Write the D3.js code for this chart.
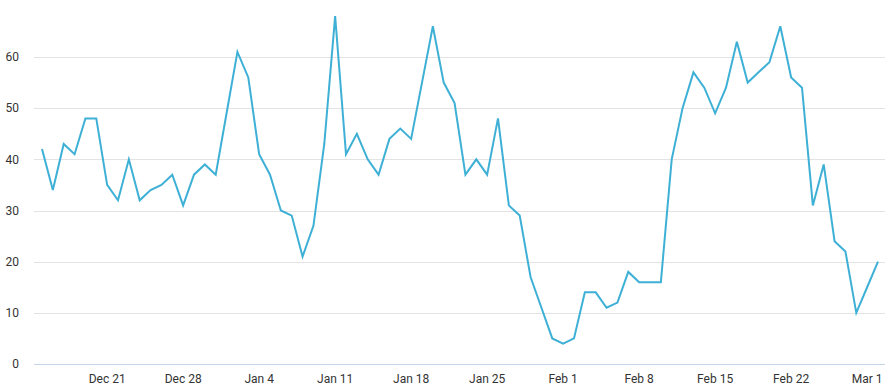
<!DOCTYPE html>
<html>
<head>
<meta charset="utf-8">
<script src="https://cdn.jsdelivr.net/npm/d3@7"></script>
<style>
  body { margin: 0; background: #fff; }
  svg { display: block; font-family: Roboto, "Noto Sans", sans-serif; }
  .grid line { stroke: #e3e3e3; stroke-width: 1; }
  .tick-label { fill: #333; font-size: 12px; }
</style>
</head>
<body>
<svg id="chart" width="893" height="390"></svg>
<script>
// Daily counts, Dec 15 through Mar 2
const startDate = '2018-12-15';
const values = [
  42, 34, 43, 41, 48, 48, 35, 32, 40, 32, 34, 35, 37, 31,
  37, 39, 37, 49, 61, 56, 41, 37, 30, 29, 21, 27, 43, 68,
  41, 45, 40, 37, 44, 46, 44, 55, 66, 55, 51, 37, 40, 37,
  48, 31, 29, 17, 11, 5, 4, 5, 14, 14, 11, 12, 18, 16,
  16, 16, 40, 50, 57, 54, 49, 54, 63, 55, 57, 59, 66, 56,
  54, 31, 39, 24, 22, 10, 15, 20
];
const yTicks = [0, 10, 20, 30, 40, 50, 60];
const xTickDates = ['2018-12-21', '2018-12-28', '2019-01-04', '2019-01-11', '2019-01-18',
  '2019-01-25', '2019-02-01', '2019-02-08', '2019-02-15', '2019-02-22', '2019-03-01'];

const parse = d3.utcParse('%Y-%m-%d');
const start = parse(startDate);
const data = values.map((v, i) => ({date: d3.utcDay.offset(start, i), value: v}));

const svg = d3.select('#chart');
const plotLeft = 34, plotRight = 885;

const x = d3.scaleUtc()
  .domain(d3.extent(data, (d) => d.date))
  .range([42, 878]);
const y = d3.scaleLinear()
  .domain([0, 60])
  .range([364, 57]);

// Horizontal gridlines (not at zero, the baseline is drawn separately)
svg.append('g').attr('class', 'grid')
  .selectAll('line')
  .data(yTicks.filter((t) => t > 0))
  .join('line')
    .attr('x1', plotLeft).attr('x2', plotRight)
    .attr('y1', (d) => Math.round(y(d)) + 0.5)
    .attr('y2', (d) => Math.round(y(d)) + 0.5);

// Baseline
svg.append('line')
  .attr('x1', plotLeft).attr('x2', plotRight)
  .attr('y1', Math.round(y(0)) + 0.5).attr('y2', Math.round(y(0)) + 0.5)
  .attr('stroke', '#c6d6ea');

// Y tick labels
svg.append('g')
  .selectAll('text')
  .data(yTicks)
  .join('text')
    .attr('class', 'tick-label')
    .attr('x', 19)
    .attr('y', (d) => y(d))
    .attr('dy', '0.35em')
    .attr('text-anchor', 'end')
    .text((d) => d);

// X tick labels
const fmt = d3.utcFormat('%b %-d');
svg.append('g')
  .selectAll('text')
  .data(xTickDates.map(parse))
  .join('text')
    .attr('class', 'tick-label')
    .attr('x', (d) => x(d))
    .attr('y', 379)
    .attr('dy', '0.35em')
    .attr('text-anchor', 'middle')
    .text(fmt);

// The series line
svg.append('path')
  .datum(data)
  .attr('fill', 'none')
  .attr('stroke', '#3eb0d6')
  .attr('stroke-width', 2)
  .attr('stroke-linejoin', 'miter')
  .attr('d', d3.line().x((d) => x(d.date)).y((d) => y(d.value)));
</script>
</body>
</html>
